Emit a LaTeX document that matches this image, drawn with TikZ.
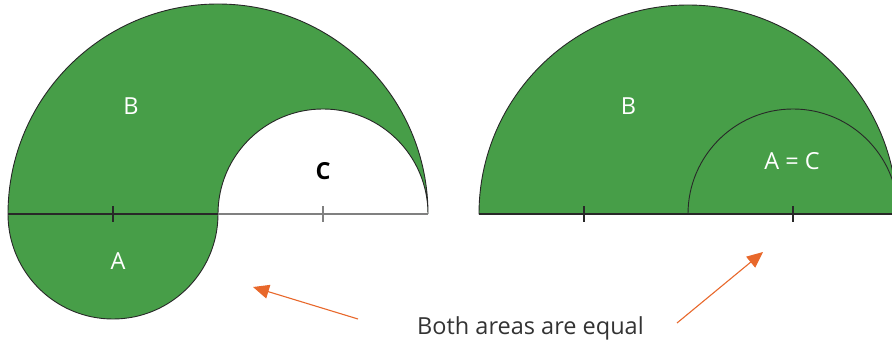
\documentclass[tikz,border=0pt]{standalone}
\usepackage{fontspec}
\setmainfont{Open Sans}
\usetikzlibrary{arrows.meta}
\definecolor{fig}{RGB}{71,158,72}
\definecolor{arr}{RGB}{232,104,43}
\definecolor{edge}{RGB}{40,40,40}
\definecolor{txt}{RGB}{51,51,51}
\definecolor{gline}{RGB}{128,128,128}
\tikzset{
  region/.style={fill=fig,draw=edge,line width=0.9pt},
  baseln/.style={draw=edge,line width=2pt},
  grayln/.style={draw=gline,line width=2pt},
  tickmark/.style={line width=1.2pt},
  lbl/.style={anchor=base,inner sep=0pt,font=\fontsize{23.5}{28}\selectfont},
  pointer/.style={draw=arr,line width=1.1pt,-{Triangle[length=16pt,width=14pt]}}
}
\begin{document}
\begin{tikzpicture}[x=1pt,y=1pt]
\useasboundingbox (0,0) rectangle (892,343);
\clip (0,0) rectangle (892,343);
% ---------- left figure ----------
\coordinate (L0) at (8,129);
\coordinate (LM) at (218,129);
\coordinate (LR) at (428,129);
\path[region] (L0) arc[start angle=180,end angle=0,radius=210]
  arc[start angle=0,end angle=180,radius=105]
  arc[start angle=0,end angle=-180,radius=105] -- cycle;
\draw[baseln] (L0) -- (LM);
\draw[grayln] (LM) -- (LR);
\draw[tickmark,draw=edge] (113,121) -- (113,137);
\draw[tickmark,draw=gline] (323,121) -- (323,137);
\node[lbl,text=white] (lB) at (131,228) {B};
\node[lbl,text=white] (lA) at (118,74) {A};
\node[lbl,text=black,font=\fontsize{23.5}{28}\selectfont\bfseries] (lC) at (323,163) {C};
% ---------- right figure ----------
\coordinate (R0) at (479,129);
\coordinate (RM) at (688,129);
\coordinate (RR) at (897,129);
\path[region] (R0) arc[start angle=180,end angle=0,radius=209] -- cycle;
\draw[edge,line width=0.9pt] (RM) arc[start angle=180,end angle=0,radius=105];
\draw[baseln] (R0) -- (RR);
\draw[tickmark,draw=edge] (584,121) -- (584,137);
\draw[tickmark,draw=edge] (793,121) -- (793,137);
\node[lbl,text=white] (rB) at (628.5,228) {B};
\node[lbl,text=white] (rAC) at (792,173) {A = C};
% ---------- caption and arrows ----------
\node[lbl,text=txt] (cap) at (530.5,9) {Both areas are equal};
\coordinate (t1) at (358,24);
\coordinate (h1) at (253,56);
\coordinate (t2) at (677,20);
\coordinate (h2) at (763,91);
\draw[pointer] (t1) -- (h1);
\draw[pointer] (t2) -- (h2);
\end{tikzpicture}
\end{document}
